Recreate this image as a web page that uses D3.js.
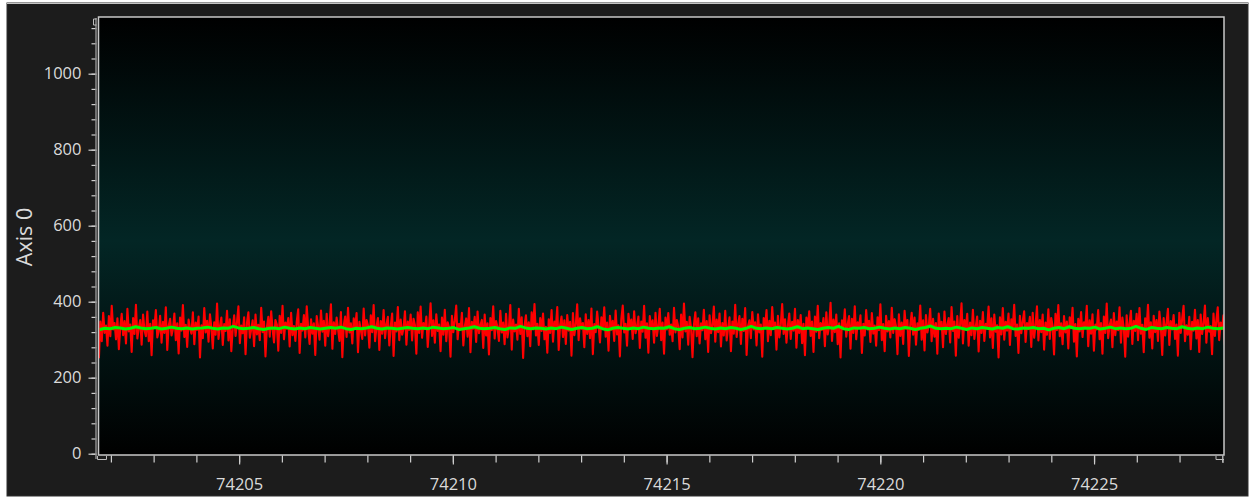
<!DOCTYPE html>
<html>
<head>
<meta charset="utf-8">
<script src="https://cdn.jsdelivr.net/npm/d3@7/dist/d3.min.js"></script>
<style>
    html, body { margin: 0; padding: 0; background: #ffffff; }
    svg { display: block; }
    text { font-family: "Open Sans", "Noto Sans", sans-serif; fill: #dadada; }
</style>
</head>
<body>
<svg id="chart" width="1252" height="498"></svg>
<script>
// raw signal (red), one sample every 0.0333 s
const rawValues = [
    251, 348, 296, 371, 318, 337, 284, 362, 309, 389, 327, 344, 301, 356, 275, 333, 368, 312, 349, 290, 381, 322,
    340, 268, 357, 315, 392, 303, 331, 352, 287, 366, 325, 309, 374, 296, 342, 259, 351, 334, 378, 306, 321, 363,
    292, 347, 318, 385, 273, 336, 355, 311, 328, 369, 299, 343, 264, 358, 324, 391, 307, 339, 281, 353, 330, 316,
    372, 288, 345, 326, 361, 253, 338, 304, 383, 319, 350, 295, 367, 332, 277, 346, 313, 395, 302, 335, 358, 286,
    341, 323, 376, 298, 354, 270, 329, 364, 310, 347, 388, 291, 337, 317, 359, 262, 344, 372, 305, 327, 351, 283,
    366, 314, 339, 299, 384, 320, 348, 256, 333, 360, 308, 375, 327, 293, 352, 340, 271, 363, 318, 389, 301, 345,
    329, 357, 282, 371, 312, 336, 297, 349, 380, 265, 342, 324, 365, 306, 388, 331, 289, 354, 316, 343, 260, 362,
    335, 300, 377, 321, 350, 284, 368, 309, 339, 393, 276, 346, 315, 358, 328, 297, 373, 254, 338, 361, 307, 384,
    319, 343, 290, 356, 331, 370, 267, 347, 325, 302, 382, 311, 352, 338, 279, 364, 320, 391, 296, 334, 357, 273,
    349, 316, 378, 304, 341, 360, 285, 336, 369, 257, 345, 322, 386, 299, 353, 313, 330, 375, 287, 348, 326, 366,
    298, 355, 339, 263, 372, 318, 387, 305, 344, 328, 361, 281, 337, 396, 310, 351, 292, 367, 323, 340, 270, 358,
    313, 379, 296, 346, 332, 255, 363, 320, 350, 390, 301, 342, 326, 371, 285, 335, 356, 308, 383, 267, 347, 329,
    360, 294, 374, 317, 338, 352, 278, 366, 311, 343, 261, 357, 325, 388, 303, 349, 333, 297, 376, 319, 345, 288,
    368, 306, 330, 391, 274, 353, 322, 340, 300, 381, 315, 359, 252, 337, 364, 309, 346, 283, 372, 327, 394, 311,
    342, 286, 357, 323, 369, 301, 334, 266, 354, 318, 378, 295, 348, 331, 386, 273, 339, 361, 307, 351, 289, 365,
    324, 347, 258, 370, 312, 339, 393, 299, 356, 329, 344, 280, 367, 315, 352, 304, 382, 262, 341, 320, 374, 336,
    293, 359, 331, 385, 308, 345, 271, 363, 326, 350, 297, 377, 314, 338, 256, 355, 390, 319, 342, 284, 368, 330,
    353, 302, 375, 317, 335, 361, 278, 348, 321, 389, 305, 343, 266, 362, 328, 351, 292, 371, 310, 337, 381, 299,
    345, 263, 358, 327, 370, 313, 340, 296, 384, 319, 352, 334, 275, 366, 306, 395, 322, 347, 287, 360, 330, 254,
    339, 372, 309, 356, 290, 343, 325, 379, 301, 349, 268, 364, 317, 338, 387, 295, 353, 320, 369, 282, 344, 311,
    376, 298, 331, 359, 270, 348, 316, 392, 307, 341, 362, 289, 355, 323, 383, 260, 336, 351, 304, 373, 327, 346,
    285, 367, 319, 340, 255, 357, 333, 378, 296, 350, 312, 386, 328, 345, 274, 363, 306, 339, 394, 315, 354, 292,
    337, 369, 302, 347, 324, 381, 279, 352, 318, 365, 291, 342, 259, 358, 330, 375, 310, 348, 268, 361, 321, 389,
    304, 344, 326, 357, 283, 372, 314, 336, 397, 297, 353, 320, 366, 288, 343, 253, 351, 329, 380, 308, 340, 362,
    276, 355, 318, 388, 301, 346, 333, 364, 265, 342, 311, 378, 327, 350, 294, 370, 316, 337, 284, 359, 325, 393,
    299, 341, 270, 363, 322, 349, 306, 384, 318, 354, 335, 262, 367, 310, 345, 289, 376, 329, 352, 257, 338, 371,
    313, 358, 287, 343, 326, 390, 300, 351, 272, 365, 319, 337, 381, 296, 355, 308, 344, 263, 369, 331, 347, 280,
    374, 315, 339, 357, 293, 386, 323, 348, 258, 362, 305, 340, 396, 290, 352, 327, 368, 284, 345, 312, 379, 302,
    335, 361, 269, 350, 318, 373, 297, 342, 329, 387, 306, 356, 278, 366, 321, 338, 253, 359, 314, 383, 300, 347,
    324, 369, 286, 354, 331, 392, 310, 340, 265, 363, 317, 349, 375, 294, 344, 328, 360, 281, 371, 305, 337, 388,
    298, 352, 320, 366, 274, 345, 313, 380, 302, 357, 336, 261, 368, 325, 391, 309, 343, 288, 362, 319, 348, 277,
    359, 330, 384, 295, 341, 256, 355, 322, 373, 307, 346, 334, 389, 283, 351, 316, 367, 271, 340, 327, 378, 301,
    344, 263, 361, 318, 395, 304, 337, 353, 280, 370, 312, 348, 325, 385, 292, 358, 331, 255, 364, 308, 342, 376,
    289, 350, 323, 368, 299, 383, 316, 339, 267, 356, 329, 392, 305, 346, 277, 363, 320, 352, 297, 374, 334, 260,
    357, 311, 344, 381, 286, 349, 327, 365, 302, 340, 258, 371, 318, 355, 389, 296, 338, 313, 360, 275, 347, 324,
    379, 303, 352, 268, 366, 315, 343, 390, 292, 357, 321, 336, 262, 369, 310, 350, 385, 299, 345, 328, 364, 287
];
const rawStart = 74201.72;
const rawStep = 0.0333;

// filtered signal (green), one sample every 0.12 s
const filteredValues = [
    327, 330, 329, 332, 331, 328, 330, 334, 331, 329, 330, 332, 328, 330, 333, 330, 329, 331, 328, 330, 331, 333,
    330, 328, 331, 330, 335, 331, 329, 330, 332, 329, 327, 330, 331, 329, 333, 330, 328, 331, 329, 332, 330, 328,
    330, 332, 330, 333, 329, 327, 330, 329, 331, 334, 330, 328, 331, 330, 328, 330, 332, 330, 329, 331, 329, 333,
    331, 329, 330, 332, 327, 329, 331, 334, 330, 329, 330, 332, 329, 327, 331, 330, 335, 331, 329, 331, 330, 328,
    331, 329, 333, 330, 327, 330, 332, 329, 330, 334, 329, 326, 330, 332, 330, 328, 331, 329, 333, 330, 329, 331,
    330, 334, 329, 327, 330, 332, 329, 330, 333, 330, 328, 331, 329, 332, 330, 327, 330, 335, 330, 329, 331, 329,
    332, 330, 328, 330, 334, 329, 331, 329, 327, 330, 332, 330, 335, 329, 327, 331, 330, 332, 329, 330, 333, 330,
    328, 331, 329, 332, 330, 327, 330, 332, 336, 330, 329, 330, 329, 333, 330, 327, 331, 329, 332, 330, 328, 332,
    330, 334, 329, 328, 331, 330, 332, 329, 330, 326, 330, 332, 329, 334, 330, 329, 331, 330, 333, 328, 330, 333,
    329, 331, 329, 330, 335, 330, 327, 332, 330, 329, 332, 330, 329, 334, 330, 328, 331, 329, 333, 330, 329, 331
];
const filteredStart = 74201.74;
const filteredStep = 0.12;

const xDomain = [74201.71, 74228.04];
const yDomain = [-3.42, 1149.2];
const xMajorTicks = [74205, 74210, 74215, 74220, 74225];
const xMinorTicks = d3.range(74202, 74229, 1);
const yMajorTicks = [0, 200, 400, 600, 800, 1000];
const yMinorTicks = d3.range(0, 1121, 40);
const yAxisTitle = "Axis 0";

class ScopeChart{
    constructor(){
        this.svg = d3.select("svg#chart");
        this.plot = {left: 98.5, top: 17, right: 1224, bottom: 455};
    }

    init = () => {
        this.x = d3.scaleLinear().domain(xDomain).range([this.plot.left, this.plot.right]);
        this.y = d3.scaleLinear().domain(yDomain).range([this.plot.bottom, this.plot.top]);
        this.drawFrame();
        this.drawSeries(rawValues, rawStart, rawStep, "#ff0000", 2.1);
        this.drawSeries(filteredValues, filteredStart, filteredStep, "#00f500", 3);
        this.drawAxes();
    }

    drawFrame = () => {
        let p = this.plot;
        // panel
        this.svg.append("rect").attr("x", 7).attr("y", 3).attr("width", 1241).attr("height", 493)
            .attr("fill", "#1c1c1c").attr("stroke", "#2f2f2f");
        this.svg.append("line").attr("x1", 7).attr("x2", 1248).attr("y1", 3.5).attr("y2", 3.5)
            .attr("stroke", "#c4c4c4");

        let grad = this.svg.append("defs").append("linearGradient")
            .attr("id", "plot-bg").attr("x1", 0).attr("x2", 0).attr("y1", 0).attr("y2", 1);
        grad.append("stop").attr("offset", "0%").attr("stop-color", "#000000");
        grad.append("stop").attr("offset", "51%").attr("stop-color", "#032625");
        grad.append("stop").attr("offset", "100%").attr("stop-color", "#000000");

        this.svg.select("defs").append("clipPath").attr("id", "plot-clip")
            .append("rect").attr("x", p.left).attr("y", p.top)
            .attr("width", p.right - p.left).attr("height", p.bottom - p.top);

        this.svg.append("rect").attr("x", p.left).attr("y", p.top)
            .attr("width", p.right - p.left).attr("height", p.bottom - p.top)
            .attr("fill", "url(#plot-bg)");
    }

    drawSeries = (values, start, step, color, width) => {
        let line = d3.line()
            .x((d, i) => this.x(start + i * step))
            .y(d => this.y(d));
        this.svg.append("path")
            .datum(values)
            .attr("clip-path", "url(#plot-clip)")
            .attr("d", line)
            .attr("fill", "none")
            .attr("stroke", color)
            .attr("stroke-width", width)
            .attr("stroke-linejoin", "round");
    }

    drawAxes = () => {
        let p = this.plot;
        let tickColor = "#cfcfcf";

        // plot border
        this.svg.append("rect").attr("x", p.left).attr("y", p.top)
            .attr("width", p.right - p.left).attr("height", p.bottom - p.top)
            .attr("fill", "none").attr("stroke", "#c8c8c8").attr("stroke-width", 1.5);

        // y axis
        let yMinor = this.svg.append("g").attr("transform", `translate(${p.left - 2},0)`)
            .call(d3.axisLeft(this.y).tickValues(yMinorTicks).tickSize(5).tickFormat(""));
        let yMajor = this.svg.append("g").attr("transform", `translate(${p.left - 2},0)`)
            .call(d3.axisLeft(this.y).tickValues(yMajorTicks).tickSize(8).tickPadding(7).tickFormat(d3.format("d")));
        [yMinor, yMajor].forEach(g => {
            g.select(".domain").remove();
            g.selectAll(".tick line").attr("stroke", tickColor).attr("stroke-width", 1.2);
        });
        yMajor.selectAll(".tick text").attr("fill", "#dadada").style("font-size", "16.5px");
        this.svg.append("line").attr("x1", p.left - 2.5).attr("x2", p.left - 2.5)
            .attr("y1", p.top + 1).attr("y2", p.bottom + 4)
            .attr("stroke", "#8c8c8c").attr("stroke-width", 1.5);

        // x axis
        let xMinor = this.svg.append("g").attr("transform", `translate(0,${p.bottom + 0.5})`)
            .call(d3.axisBottom(this.x).tickValues(xMinorTicks).tickSize(7).tickFormat(""));
        let xMajor = this.svg.append("g").attr("transform", `translate(0,${p.bottom + 0.5})`)
            .call(d3.axisBottom(this.x).tickValues(xMajorTicks).tickSize(9).tickPadding(14).tickFormat(d3.format("d")));
        [xMinor, xMajor].forEach(g => {
            g.select(".domain").remove();
            g.selectAll(".tick line").attr("stroke", tickColor).attr("stroke-width", 1.2);
        });
        xMajor.selectAll(".tick text").attr("fill", "#dadada").style("font-size", "16.5px");

        // little end caps on the axes
        this.svg.append("path")
            .attr("d", `M${p.left - 1},${p.bottom + 1} V${p.bottom + 4.5} H${p.left + 8} V${p.bottom + 1}`)
            .attr("fill", "none").attr("stroke", "#bdbdbd");
        this.svg.append("path")
            .attr("d", `M${p.right - 8},${p.bottom + 1} V${p.bottom + 4.5} H${p.right} M${p.right - 1},${p.bottom + 4.5} V${p.bottom + 8}`)
            .attr("fill", "none").attr("stroke", "#bdbdbd");
        this.svg.append("path")
            .attr("d", `M${p.left - 2},${p.top + 2} H${p.left - 5} V${p.top + 8} H${p.left - 2}`)
            .attr("fill", "none").attr("stroke", "#bdbdbd");

        // axis title
        this.svg.append("text")
            .attr("transform", `translate(32,237) rotate(-90)`)
            .attr("text-anchor", "middle")
            .style("font-size", "21.5px")
            .attr("fill", "#dadada")
            .text(yAxisTitle);
    }
}

new ScopeChart().init();
</script>
</body>
</html>
